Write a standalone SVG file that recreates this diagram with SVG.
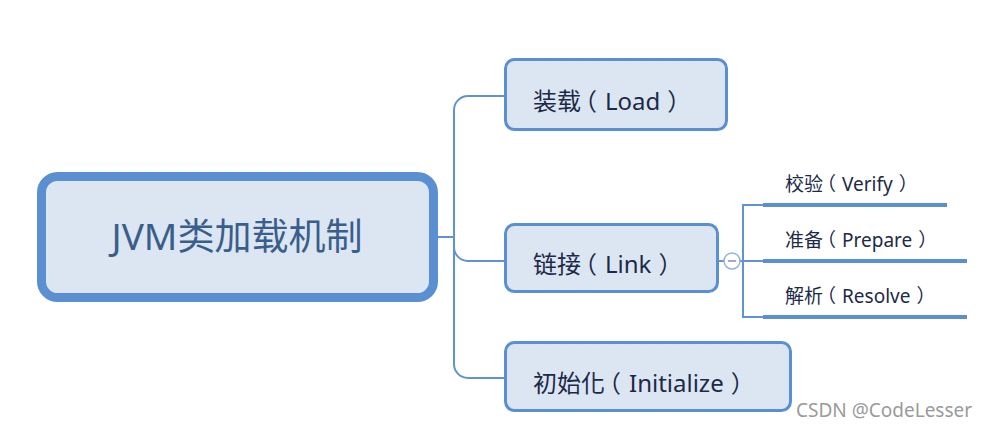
<svg xmlns="http://www.w3.org/2000/svg" width="988" height="428" viewBox="0 0 988 428">
<style>
.box{fill:#dce6f2;stroke:#5a8fd2;stroke-width:3}
.root{fill:#dce6f2;stroke:#5a8fd2;stroke-width:9}
.t{font-family:"Noto Sans","Noto Sans CJK TC",sans-serif;fill:#1c2a48}
.c{fill:none;stroke:#5f93d4;stroke-width:2}
.thick{fill:none;stroke:#5a8fd2;stroke-width:4}
</style>
<rect width="988" height="428" fill="#ffffff"/>
<g id="connectors">
<path class="c" d="M438,237 H454"/>
<path class="c" d="M504,96 H468 A14,14 0 0 0 454,110 V364 A14,14 0 0 0 468,378 H504"/>
<path class="c" d="M454,247 A14,14 0 0 0 468,261 H504"/>
<path class="c" d="M719,261 H724"/>
<path class="c" d="M740,261 H765"/>
<path class="c" d="M765,205 H743 V317 H765"/>
<path class="thick" d="M763,205 H947"/>
<path class="thick" d="M763,261 H967"/>
<path class="thick" d="M763,317 H967"/>
<circle cx="732" cy="261" r="8" fill="#ffffff" stroke="#8fb2e2" stroke-width="1.5"/>
<path d="M728,261 H736" stroke="#8a8cac" stroke-width="1.5"/>
</g>
<g id="root">
<rect class="root" x="41.5" y="176.5" width="392" height="121" rx="16"/>
<text class="t" x="237" y="250" font-size="37" text-anchor="middle" style="fill:#3a5e8c">JVM类加载机制</text>
</g>
<g id="load">
<rect class="box" x="505.5" y="59.5" width="221" height="70" rx="9"/>
<text class="t" x="533" y="110" font-size="24">装载<tspan dx="-8">（</tspan><tspan dx="8">Load</tspan><tspan dx="7">）</tspan></text>
</g>
<g id="link">
<rect class="box" x="505.5" y="224.5" width="212" height="67" rx="9"/>
<text class="t" x="533" y="273" font-size="24">链接<tspan dx="-8">（</tspan><tspan dx="8">Link</tspan><tspan dx="7">）</tspan></text>
</g>
<g id="init">
<rect class="box" x="505.5" y="342.5" width="285" height="68" rx="9"/>
<text class="t" x="533" y="392" font-size="24">初始化<tspan dx="-8">（</tspan><tspan dx="8">Initialize</tspan><tspan dx="7">）</tspan></text>
</g>
<g id="verify">
<text class="t" x="785" y="191" font-size="19">校验<tspan dx="-6">（</tspan><tspan dx="6">Verify</tspan><tspan dx="6">）</tspan></text>
</g>
<g id="prepare">
<text class="t" x="785" y="247" font-size="19">准备<tspan dx="-6">（</tspan><tspan dx="6">Prepare</tspan><tspan dx="6">）</tspan></text>
</g>
<g id="resolve">
<text class="t" x="785" y="303" font-size="19">解析<tspan dx="-6">（</tspan><tspan dx="6">Resolve</tspan><tspan dx="6">）</tspan></text>
</g>
<text x="796" y="417" font-family="Noto Sans, sans-serif" font-size="19" fill="#9a9a9a">CSDN @CodeLesser</text>
</svg>
